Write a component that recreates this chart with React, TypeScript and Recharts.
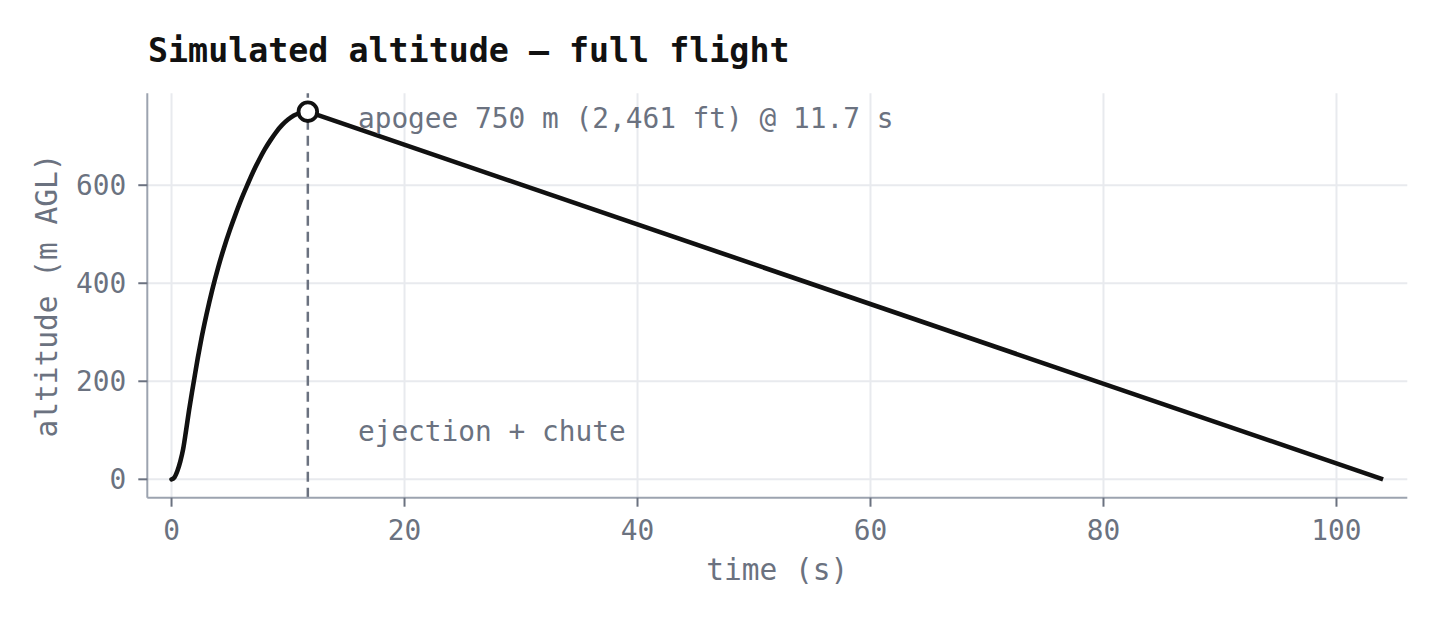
import React from 'react';
import {
  LineChart,
  Line,
  XAxis,
  YAxis,
  CartesianGrid,
  ReferenceLine,
  ReferenceDot,
} from 'recharts';

// ---- data ----
// powered ascent + coast (to apogee)
const ascentTime: number[] = [
  0, 0.25, 0.5, 0.75, 1.0, 1.25, 1.5, 1.75, 2.0, 2.25, 2.5, 3.0, 3.5, 4.0, 4.5,
  5.0, 5.5, 6.0, 6.5, 7.0, 7.5, 8.0, 8.5, 9.0, 9.5, 10.0, 10.5, 11.0, 11.7,
];
const ascentAlt: number[] = [
  0, 4, 17, 36, 62, 100, 140, 177, 212, 247, 279, 336, 387, 432, 472,
  508, 541, 572, 600, 627, 651, 673, 692, 709, 723, 734, 742, 747, 750,
];
// descent under chute (apogee to touchdown)
const descentTime: number[] = [11.7, 104];
const descentAlt: number[] = [750, 0];

const xTicks: number[] = [0, 20, 40, 60, 80, 100];
const yTicks: number[] = [0, 200, 400, 600];
const xDomain: [number, number] = [-2.08, 106.08];
const yDomain: [number, number] = [-37.5, 787.5];

const apogeeTime = 11.7;
const apogeeAlt = 750;
const annotationTime = 16;
const apogeeLabel = 'apogee 750 m (2,461 ft) @ 11.7 s';
const ejectionLabel = 'ejection + chute';
const ejectionAlt = 100;
const titleText = 'Simulated altitude \u2014 full flight';
const xLabel = 'time (s)';
const yLabel = 'altitude (m AGL)';

const chartData = [
  ...ascentTime.map((t, i) => ({
    t,
    asc: ascentAlt[i],
    desc: t === descentTime[0] ? descentAlt[0] : null,
  })),
  ...descentTime.slice(1).map((t, i) => ({ t, asc: null, desc: descentAlt[i + 1] })),
];

const MONO = "'DejaVu Sans Mono', monospace";
const TICK_COLOR = '#6b7280';
const SPINE_COLOR = '#9ca3af';
const GRID_COLOR = '#e8eaee';
const LINE_COLOR = '#111111';

const TextMark = (text: string, dy: number) => (props: any) => (
  <text
    x={props.cx}
    y={props.cy + dy}
    fill={TICK_COLOR}
    fontFamily={MONO}
    fontSize={27.8}
    textAnchor="start"
  >
    {text}
  </text>
);

const XLabel = (props: any) => {
  const vb = props.viewBox || {};
  return (
    <text
      x={vb.x + vb.width / 2}
      y={vb.y + 82.3}
      fill={TICK_COLOR}
      fontFamily={MONO}
      fontSize={29.5}
      textAnchor="middle"
    >
      {xLabel}
    </text>
  );
};

const YLabel = (props: any) => {
  const vb = props.viewBox || {};
  const x = vb.x + vb.width - 90;
  const y = vb.y + vb.height / 2;
  return (
    <text
      x={x}
      y={y}
      transform={`rotate(-90, ${x}, ${y})`}
      fill={TICK_COLOR}
      fontFamily={MONO}
      fontSize={29.5}
      textAnchor="middle"
    >
      {yLabel}
    </text>
  );
};

export default function App() {
  return (
    <div
      style={{
        position: 'absolute',
        left: 0,
        top: 0,
        width: 1440,
        height: 620,
        background: '#ffffff',
      }}
    >
      <svg
        width={1440}
        height={620}
        style={{ position: 'absolute', left: 0, top: 0, pointerEvents: 'none' }}
      >
        <text
          x={148}
          y={62}
          fill={LINE_COLOR}
          fontFamily={MONO}
          fontWeight="bold"
          fontSize={33.3}
        >
          {titleText}
        </text>
      </svg>
      <div style={{ position: 'absolute', left: 0, top: 0 }}>
        <LineChart
          width={1440}
          height={620}
          data={chartData}
          margin={{ top: 93.3, right: 32.7, bottom: 62.3, left: 47.3 }}
        >
          <CartesianGrid
            stroke={GRID_COLOR}
            strokeWidth={2}
            horizontal
            vertical
            syncWithTicks
          />
          <XAxis
            dataKey="t"
            type="number"
            domain={xDomain}
            ticks={xTicks}
            allowDataOverflow
            height={60}
            axisLine={{ stroke: SPINE_COLOR, strokeWidth: 2 }}
            tickLine={{ stroke: TICK_COLOR, strokeWidth: 2 }}
            tickSize={9}
            tickMargin={13.4}
            tick={{ fill: TICK_COLOR, fontFamily: MONO, fontSize: 27.8 }}
            label={<XLabel />}
          />
          <YAxis
            type="number"
            domain={yDomain}
            ticks={yTicks}
            allowDataOverflow
            width={100}
            axisLine={{ stroke: SPINE_COLOR, strokeWidth: 2 }}
            tickLine={{ stroke: TICK_COLOR, strokeWidth: 2 }}
            tickSize={9}
            tickMargin={12}
            tick={{ fill: TICK_COLOR, fontFamily: MONO, fontSize: 27.8 }}
            label={<YLabel />}
          />
          <ReferenceLine
            x={apogeeTime}
            stroke={TICK_COLOR}
            strokeWidth={2.5}
            strokeDasharray="10 6"
          />
          <Line
            type="monotone"
            dataKey="asc"
            stroke={LINE_COLOR}
            strokeWidth={4.6}
            dot={false}
            activeDot={false}
            strokeLinejoin="round"
            strokeLinecap="round"
            isAnimationActive={false}
          />
          <Line
            type="linear"
            dataKey="desc"
            stroke={LINE_COLOR}
            strokeWidth={4.6}
            dot={false}
            activeDot={false}
            strokeLinejoin="round"
            isAnimationActive={false}
          />
          <ReferenceDot
            x={apogeeTime}
            y={apogeeAlt}
            r={9.3}
            fill="#ffffff"
            stroke={LINE_COLOR}
            strokeWidth={3.8}
          />
          <ReferenceDot
            x={annotationTime}
            y={apogeeAlt}
            r={0}
            shape={TextMark(apogeeLabel, 16.5)}
          />
          <ReferenceDot
            x={annotationTime}
            y={ejectionAlt}
            r={0}
            shape={TextMark(ejectionLabel, 10.7)}
          />
        </LineChart>
      </div>
    </div>
  );
}
